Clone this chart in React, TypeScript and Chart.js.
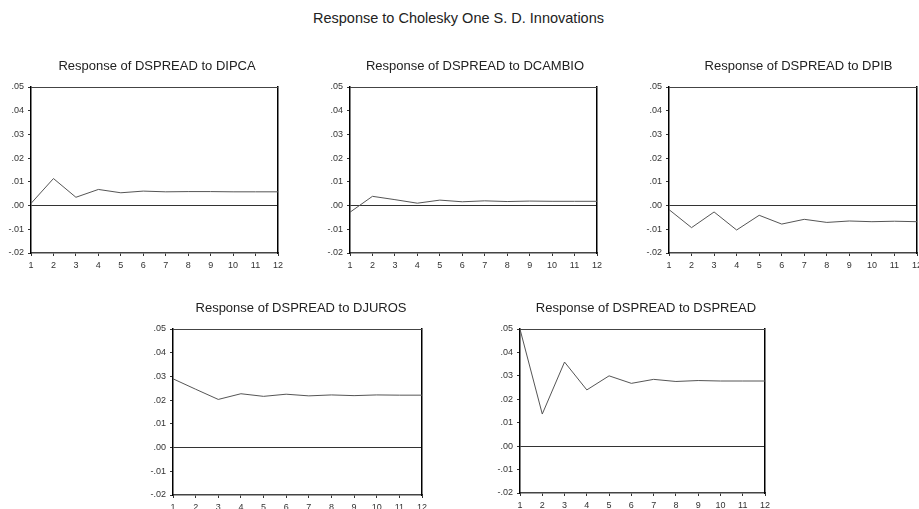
import React, { useEffect, useRef } from "react";
import { Chart, registerables } from "chart.js";

Chart.register(...registerables);

const periods = ["1", "2", "3", "4", "5", "6", "7", "8", "9", "10", "11", "12"];
const yTickMin = -0.02;
const yTickMax = 0.05;
const yTickStep = 0.01;

const mainTitle = "Response to Cholesky One S. D. Innovations";

const titleDIPCA = "Response of DSPREAD to DIPCA";
const titleDCAMBIO = "Response of DSPREAD to DCAMBIO";
const titleDPIB = "Response of DSPREAD to DPIB";
const titleDJUROS = "Response of DSPREAD to DJUROS";
const titleDSPREAD = "Response of DSPREAD to DSPREAD";

const dipca = [0.0009, 0.0114, 0.0035, 0.0068, 0.0054, 0.0061, 0.0058, 0.0059, 0.0059, 0.0058, 0.0058, 0.0058];
const dcambio = [-0.0028, 0.0039, 0.0025, 0.001, 0.0023, 0.0016, 0.002, 0.0017, 0.0019, 0.0018, 0.0018, 0.0018];
const dpib = [-0.0017, -0.0093, -0.0027, -0.0103, -0.0041, -0.0078, -0.0058, -0.0071, -0.0065, -0.0068, -0.0066, -0.0068];
const djuros = [0.029, 0.0246, 0.0203, 0.0227, 0.0216, 0.0225, 0.0218, 0.0222, 0.0219, 0.0222, 0.0221, 0.0221];
const dspread = [0.0499, 0.0137, 0.0359, 0.024, 0.03, 0.0268, 0.0285, 0.0276, 0.028, 0.0278, 0.0278, 0.0278];

const FONT = "'Liberation Sans', Arial, Helvetica, sans-serif";
const Y_AXIS_W = 30;
const TITLE_H = 30;
const X_AXIS_H = 20;

type PanelProps = {
  title: string;
  values: number[];
  left: number;
  top: number;
  plotW: number;
  plotH: number;
  dx: number;
};

function fmt(v: number) {
  const n = Math.round(Number(v) * 100) / 100;
  return n.toFixed(2).replace(/^(-?)0\./, "$1.");
}

function Panel({ title, values, left, top, plotW, plotH, dx }: PanelProps) {
  const ref = useRef<HTMLCanvasElement | null>(null);
  const rightW = 30 + 2 * dx;
  const cw = Y_AXIS_W + plotW + rightW;
  const ch = TITLE_H + plotH + X_AXIS_H;

  useEffect(() => {
    if (!ref.current) return;
    const framePlugin = {
      id: "frameTop",
      afterDatasetsDraw(chart: any) {
        const a = chart.chartArea;
        const c = chart.ctx;
        c.save();
        c.strokeStyle = "#444";
        c.lineWidth = 1;
        c.beginPath();
        c.moveTo(a.left, a.top + 0.5);
        c.lineTo(a.right, a.top + 0.5);
        c.stroke();
        c.restore();
      },
    };
    const chart = new Chart(ref.current, {
      type: "line",
      data: {
        labels: periods,
        datasets: [
          {
            data: values,
            borderColor: "#555",
            borderWidth: 1,
            pointRadius: 0,
            tension: 0,
            fill: false,
          },
        ],
      },
      options: {
        animation: false,
        responsive: false,
        layout: { padding: 0 },
        plugins: {
          legend: { display: false },
          tooltip: { enabled: false },
          title: {
            display: true,
            text: title,
            color: "#222",
            font: { family: FONT, size: 13, weight: "normal", lineHeight: 1.2 },
            padding: { top: 2, bottom: TITLE_H - 2 - 15.6 },
          },
        },
        scales: {
          x: {
            type: "category",
            offset: false,
            afterFit: (s: any) => {
              s.height = X_AXIS_H;
            },
            grid: {
              drawOnChartArea: false,
              drawTicks: true,
              tickLength: 3,
              tickColor: "#333",
            },
            border: { display: true, color: "#444", width: 1.5 },
            ticks: {
              autoSkip: false,
              maxRotation: 0,
              padding: 4,
              color: "#333",
              font: { family: FONT, size: 9 },
            },
          },
          y: {
            type: "linear",
            min: yTickMin,
            max: yTickMax,
            afterFit: (s: any) => {
              s.width = Y_AXIS_W;
            },
            grid: {
              drawOnChartArea: true,
              drawTicks: true,
              tickLength: 3,
              tickColor: "#333",
              lineWidth: 1,
              color: (ctx: any) =>
                ctx.tick && Math.abs(ctx.tick.value) < 1e-9 ? "#333" : "rgba(0,0,0,0)",
            },
            border: { display: true, color: "#000", width: 1.5 },
            ticks: {
              stepSize: yTickStep,
              padding: 4,
              color: "#333",
              font: { family: FONT, size: 9 },
              callback: (v: any) => fmt(v),
            },
          },
          y2: {
            type: "linear",
            position: "right",
            min: yTickMin,
            max: yTickMax,
            afterFit: (s: any) => {
              s.width = rightW;
            },
            grid: { drawOnChartArea: false, drawTicks: false },
            border: { display: true, color: "#000", width: 1.5 },
            ticks: { display: false },
          },
        },
      },
      plugins: [framePlugin],
    } as any);
    return () => chart.destroy();
  }, [title, values, plotW, plotH, rightW]);

  return (
    <div
      style={{
        position: "absolute",
        left: left - Y_AXIS_W,
        top: top - TITLE_H,
        width: cw,
        height: ch,
      }}
    >
      <canvas ref={ref} width={cw} height={ch} style={{ display: "block" }} />
    </div>
  );
}

export default function App() {
  return (
    <div
      style={{
        position: "absolute",
        left: 0,
        top: 0,
        width: 919,
        height: 509,
        overflow: "hidden",
        background: "#fff",
      }}
    >
      <div
        style={{
          position: "absolute",
          left: 0,
          top: 10,
          width: 917,
          textAlign: "center",
          fontFamily: FONT,
          fontSize: 14.5,
          lineHeight: "16px",
          color: "#222",
        }}
      >
        {mainTitle}
      </div>
      <Panel title={titleDIPCA} values={dipca} left={31} top={87} plotW={247} plotH={166} dx={2.5} />
      <Panel title={titleDCAMBIO} values={dcambio} left={350} top={87} plotW={247} plotH={166} dx={1.5} />
      <Panel title={titleDPIB} values={dpib} left={669} top={87} plotW={248} plotH={166} dx={5.5} />
      <Panel title={titleDJUROS} values={djuros} left={173} top={329} plotW={249} plotH={166} dx={3.5} />
      <Panel title={titleDSPREAD} values={dspread} left={520} top={329} plotW={245} plotH={164} dx={3.5} />
    </div>
  );
}
